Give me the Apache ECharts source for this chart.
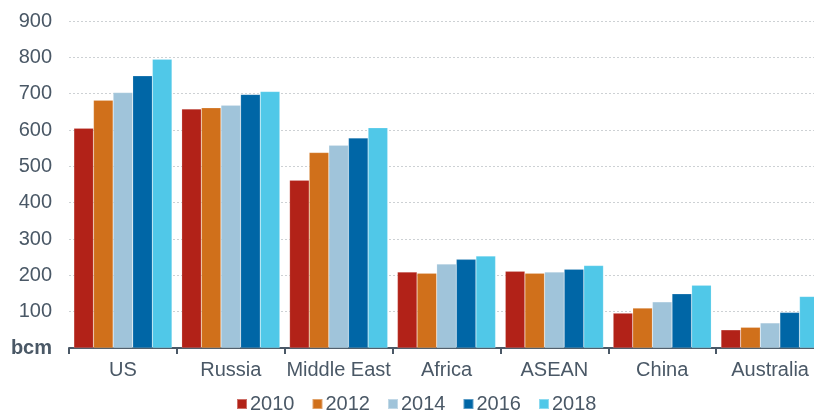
<!DOCTYPE html>
<html>
<head>
<meta charset="utf-8">
<script src="https://cdn.jsdelivr.net/npm/echarts@6/dist/echarts.min.js"></script>
<style>
  html, body { margin: 0; padding: 0; background: #fff; }
  #chart { width: 814px; height: 413px; }
</style>
</head>
<body>
<div id="chart"></div>
<script>
// Gas production by region, bcm
const regions = ['US', 'Russia', 'Middle East', 'Africa', 'ASEAN', 'China', 'Australia'];
const years = ['2010', '2012', '2014', '2016', '2018'];
const v2010 = [605, 658, 462, 209, 211, 96, 50];
const v2012 = [682, 661, 538, 206, 206, 110, 57];
const v2014 = [703, 668, 558, 231, 209, 127, 69];
const v2016 = [749, 698, 578, 244, 217, 149, 98];
const v2018 = [795, 706, 606, 253, 227, 173, 142];
const yearColors = ['#B22218', '#D0701B', '#A0C4DA', '#0066A6', '#50C8E8'];

const seriesValues = [v2010, v2012, v2014, v2016, v2018];
const textColor = '#4A5866';
const fontFamily = '"Liberation Sans", Arial, sans-serif';

const chart = echarts.init(document.getElementById('chart'), null, { renderer: 'canvas' });
chart.setOption({
  animation: false,
  textStyle: { fontFamily: fontFamily },
  // the last category runs past the right edge of the canvas
  grid: { left: 69, width: 755, top: 21, bottom: 65, containLabel: false, outerBoundsMode: 'none' },
  legend: {
    bottom: -6,
    left: 231,
    icon: 'rect',
    itemWidth: 10,
    itemHeight: 10,
    itemGap: 17,
    textStyle: { color: textColor, fontSize: 20, fontFamily: fontFamily, padding: [0, 0, 0, -2] },
    data: years
  },
  xAxis: {
    type: 'category',
    data: regions,
    axisLine: { lineStyle: { color: '#4A5866', width: 2 } },
    axisTick: { show: true, length: 6, interval: 0, lineStyle: { color: '#4A5866', width: 2 } },
    axisLabel: { color: textColor, fontSize: 20, margin: 12, interval: 0, fontFamily: fontFamily }
  },
  yAxis: {
    type: 'value',
    min: 0,
    max: 900,
    interval: 100,
    axisLine: { show: false },
    axisTick: { show: false },
    splitLine: { lineStyle: { color: '#CDD1D4', type: [2, 2], width: 1 } },
    axisLabel: {
      color: textColor,
      fontSize: 20,
      margin: 17,
      fontFamily: fontFamily,
      formatter: function (v) { return v === 0 ? '{u|bcm}' : String(v); },
      rich: { u: { fontWeight: 'bold', fontSize: 20, color: textColor, fontFamily: fontFamily } }
    }
  },
  series: years.map(function (y, i) {
    return {
      name: y,
      type: 'bar',
      data: seriesValues[i],
      barGap: '0%',
      barCategoryGap: '9%',
      itemStyle: { color: yearColors[i], borderColor: 'rgba(255,255,255,0.35)', borderWidth: 0.5 }
    };
  })
});
</script>
</body>
</html>
